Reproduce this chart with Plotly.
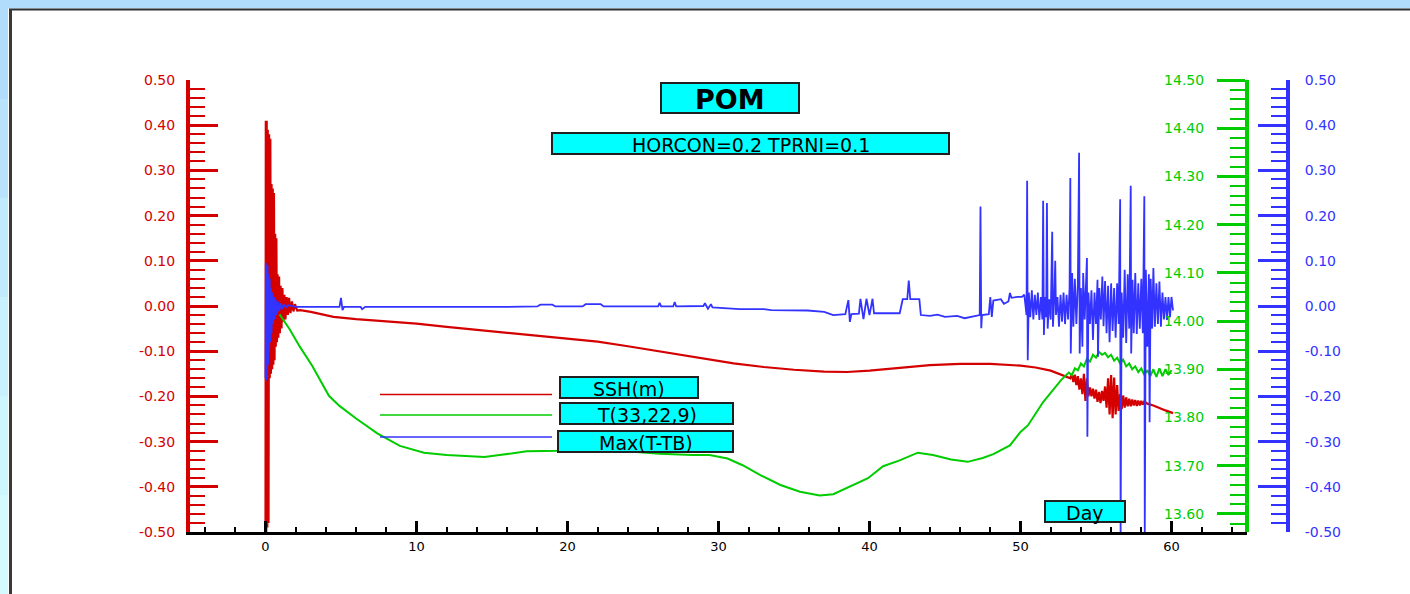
import plotly.graph_objects as go

# ------------------------------------------------------------------ data
# SSH (m), left red axis
ssh_day = [0.00, 0.02, 0.05, 0.08, 0.12, 0.15, 0.20, 0.24, 0.28, 0.32, 0.36, 0.40, 0.44, 0.48,
           0.52, 0.56, 0.60, 0.64, 0.68, 0.72, 0.76, 0.80, 0.85, 0.90, 0.95, 1.00, 1.06, 1.12,
           1.18, 1.25, 1.32, 1.40, 1.48, 1.56, 1.65, 1.75, 1.85, 1.95, 2.10, 2.30,
           3.0, 4.5, 6.0, 8.0, 10.0, 12.0, 13.5, 16.0, 18.0, 20.0, 22.0, 24.0, 26.0, 28.0, 30.0,
           31.0, 33.0, 35.0, 37.0, 38.5, 40.0, 42.0, 44.0, 46.0, 48.0, 50.0, 51.0, 52.0, 52.5, 53.0,
           53.3, 53.4, 53.5, 53.6, 53.7, 53.8, 53.9, 54.0, 54.1, 54.2, 54.3, 54.4, 54.5, 54.6, 54.7,
           54.8, 54.9, 55.0, 55.1, 55.2, 55.3, 55.4, 55.5, 55.6, 55.7, 55.8, 55.9, 56.0, 56.1, 56.2,
           56.3, 56.4, 56.5, 56.6, 56.7, 56.8, 56.9, 57.0, 57.1, 57.2, 57.3, 57.4, 57.5, 57.6, 57.7,
           57.8, 57.9, 58.0, 58.1, 58.2, 58.4, 58.8, 59.2, 59.6, 60.1]
ssh_val = [-0.50, 0.41, -0.50, 0.41, -0.49, 0.39, -0.48, 0.38, -0.16, 0.37, -0.15, 0.27, -0.14, 0.26,
           -0.13, 0.25, -0.12, 0.16, -0.09, 0.15, -0.08, 0.07, -0.07, 0.065, -0.06, 0.045, -0.05, 0.04,
           -0.035, 0.025, -0.03, 0.02, -0.02, 0.018, -0.016, 0.01, -0.012, 0.004, -0.010, -0.009,
           -0.013, -0.024, -0.029, -0.034, -0.039, -0.046, -0.051, -0.058, -0.065, -0.072, -0.079,
           -0.089, -0.100, -0.111, -0.121, -0.127, -0.135, -0.141, -0.145, -0.146, -0.143, -0.137,
           -0.131, -0.128, -0.128, -0.132, -0.136, -0.143, -0.149, -0.155,
           -0.160, -0.150, -0.168, -0.152, -0.175, -0.155, -0.185, -0.160, -0.195, -0.150, -0.210,
           -0.160, -0.200, -0.180, -0.200, -0.183, -0.205, -0.185, -0.212, -0.190, -0.215, -0.188,
           -0.210, -0.178, -0.225, -0.160, -0.240, -0.153, -0.248, -0.158, -0.240, -0.175, -0.232,
           -0.195, -0.228, -0.198, -0.225, -0.202, -0.222, -0.205, -0.222, -0.207, -0.220, -0.208,
           -0.221, -0.209, -0.220, -0.210, -0.218, -0.211, -0.216, -0.220, -0.226, -0.231, -0.237]

# T(33,22,9), green axis
t_day = [0.93, 1.6, 2.25, 3.1, 4.2, 4.9, 6.0, 7.4, 8.9, 10.5, 12.0, 13.5, 14.5, 15.5, 17.3, 19.5,
         21.7, 23.9, 26.1, 28.3, 29.4, 30.6, 31.6, 32.8, 34.1, 35.4, 36.7, 37.6, 38.7, 39.9, 40.9,
         42.0, 43.2, 44.2, 45.4, 46.5, 47.5, 48.2, 49.3, 50.0, 50.5, 51.5, 52.7,
         53.0, 53.2, 53.4, 53.6, 53.8, 54.0, 54.2, 54.4, 54.6, 54.8, 55.0, 55.2, 55.4, 55.6, 55.8,
         56.0, 56.2, 56.4, 56.6, 56.8, 57.0, 57.2, 57.4, 57.6, 57.8, 58.0, 58.2, 58.4, 58.6, 58.8,
         59.0, 59.2, 59.4, 59.6, 59.8, 60.0]
t_val = [14.014, 13.983, 13.948, 13.907, 13.845, 13.824, 13.798, 13.767, 13.741, 13.727, 13.722,
         13.720, 13.718, 13.722, 13.730, 13.731, 13.734, 13.730, 13.725, 13.722, 13.722, 13.715,
         13.701, 13.680, 13.660, 13.646, 13.638, 13.641, 13.657, 13.674, 13.699, 13.711, 13.727,
         13.722, 13.713, 13.708, 13.716, 13.724, 13.742, 13.770, 13.784, 13.832, 13.878,
         13.886, 13.893, 13.888, 13.902, 13.898, 13.912, 13.906, 13.922, 13.916, 13.930, 13.924,
         13.936, 13.930, 13.934, 13.925, 13.930, 13.918, 13.924, 13.912, 13.920, 13.906, 13.912,
         13.900, 13.906, 13.894, 13.902, 13.888, 13.898, 13.886, 13.900, 13.884, 13.902, 13.886,
         13.900, 13.888, 13.898]

# Max(T-TB), right blue axis
dtb_day = [0.00, 0.02, 0.05, 0.08, 0.11, 0.14, 0.17, 0.20, 0.24, 0.28, 0.32, 0.36, 0.40, 0.45,
           0.50, 0.56, 0.62, 0.68, 0.75, 0.82, 0.90, 1.00, 1.10, 1.20, 1.35, 1.50, 1.70,
           2.0, 4.9, 5.0, 5.1, 5.2, 6.3, 6.4, 6.6, 10.0, 13.5, 16.0, 18.0, 18.2, 19.0, 19.2, 21.0,
           21.2, 22.2, 22.4, 26.0, 26.1, 26.2, 27.0, 27.1, 27.2, 29.0, 29.1, 29.3, 29.5, 29.6,
           31.4, 33.0, 33.5, 35.9, 37.0, 37.6, 38.4, 38.6, 38.7, 38.8, 39.3, 39.4, 39.6, 39.8,
           40.0, 40.2, 40.3, 41.4, 42.0, 42.2, 42.5, 42.6, 42.7, 43.3, 43.4, 44.0, 44.5, 45.0,
           45.8, 46.3, 46.9, 47.3, 47.35, 47.4, 47.45, 47.9, 48.0, 48.1, 48.2, 48.7, 48.9, 49.2,
           49.3, 49.4, 49.8, 50.1, 50.25,
           50.40, 50.44, 50.48, 50.55, 50.65, 50.75, 50.85, 50.95, 51.05, 51.15, 51.25, 51.35,
           51.45, 51.50, 51.55, 51.62, 51.70, 51.75, 51.80, 51.90, 52.00, 52.10, 52.15, 52.25,
           52.30, 52.35, 52.45, 52.55, 52.65, 52.75, 52.85, 52.95, 53.05, 53.15, 53.25, 53.30,
           53.33, 53.42, 53.50, 53.60, 53.70, 53.80, 53.88, 53.92, 54.00, 54.10, 54.15, 54.25,
           54.33, 54.40, 54.43, 54.50, 54.60, 54.70, 54.80, 54.90, 55.00, 55.10, 55.13, 55.22,
           55.32, 55.42, 55.50, 55.60, 55.70, 55.80, 55.90, 56.00, 56.10, 56.20, 56.30, 56.40,
           56.50, 56.60, 56.63, 56.70, 56.80, 56.90, 57.00, 57.10, 57.20, 57.30, 57.33, 57.42,
           57.50, 57.60, 57.70, 57.80, 57.90, 58.00, 58.10, 58.20, 58.23, 58.30, 58.40, 58.50,
           58.55, 58.62, 58.72, 58.80, 58.90, 59.00, 59.10, 59.20, 59.30, 59.40, 59.50, 59.60,
           59.70, 59.80, 59.90, 60.00, 60.10]
dtb_val = [-0.160, 0.095, -0.165, 0.090, -0.160, 0.090, -0.130, 0.070, -0.100, 0.060, -0.080,
           0.040, -0.060, 0.030, -0.040, 0.020, -0.030, 0.014, -0.020, 0.010, -0.012, 0.006,
           -0.007, 0.004, -0.003, 0.002, 0.000,
           -0.002, -0.002, 0.018, -0.009, -0.002, -0.002, -0.007, -0.002, -0.002, -0.003, -0.002,
           -0.001, 0.003, 0.003, -0.001, -0.001, 0.004, 0.004, -0.001, -0.001, 0.007, -0.001,
           -0.001, 0.009, -0.001, 0.000, 0.006, -0.006, 0.004, -0.003,
           -0.007, -0.007, -0.009, -0.010, -0.013, -0.020, -0.018, 0.013, -0.035, -0.018, -0.017,
           0.016, -0.029, 0.016, -0.020, 0.016, -0.016, -0.016, -0.016, 0.015, 0.015, 0.056,
           0.015, 0.015, -0.020, -0.022, -0.019, -0.024, -0.022, -0.027, -0.022, -0.020, 0.220,
           -0.049, -0.020, -0.018, 0.020, -0.024, 0.012, 0.015, 0.005, 0.010, 0.029, 0.018, 0.020,
           0.020, 0.025,
           -0.020, 0.277, -0.120, 0.030, -0.025, 0.035, -0.030, 0.025, -0.020, 0.030, -0.031,
           0.020, -0.030, 0.233, -0.064, 0.020, -0.025, 0.228, -0.050, 0.015, -0.030, 0.164,
           -0.046, 0.030, 0.100, -0.020, 0.020, -0.046, 0.025, -0.035, 0.030, -0.040, 0.025,
           -0.030, 0.040, 0.283, -0.105, 0.073, -0.046, 0.060, -0.040, 0.050, 0.339, -0.105,
           0.040, -0.090, 0.073, -0.030, 0.060, 0.106, -0.289, 0.030, -0.040, 0.035, -0.075,
           0.030, -0.040, 0.058, -0.112, 0.040, -0.030, 0.065, -0.045, 0.055, -0.060, 0.045,
           -0.080, 0.050, -0.055, 0.040, -0.070, 0.050, -0.040, 0.236, -0.500, 0.030, -0.070,
           0.080, -0.082, 0.070, -0.050, 0.266, -0.105, 0.058, -0.060, 0.073, -0.062, 0.050,
           -0.050, 0.060, -0.060, 0.243, -0.500, 0.080, -0.090, 0.070, -0.257, 0.060, -0.050,
           0.084, -0.046, 0.050, -0.040, 0.054, -0.046, 0.030, -0.030, 0.020, -0.031, 0.020,
           -0.025, 0.020, -0.010]

# tick labels
x_tick_vals = [0, 10, 20, 30, 40, 50, 60]
x_tick_text = ["0", "10", "20", "30", "40", "50", "60"]
m_tick_vals = [0.5, 0.4, 0.3, 0.2, 0.1, 0.0, -0.1, -0.2, -0.3, -0.4, -0.5]
m_tick_text = ["0.50", "0.40", "0.30", "0.20", "0.10", "0.00",
               "-0.10", "-0.20", "-0.30", "-0.40", "-0.50"]
t_tick_vals = [14.5, 14.4, 14.3, 14.2, 14.1, 14.0, 13.9, 13.8, 13.7, 13.6]
t_tick_text = ["14.50", "14.40", "14.30", "14.20", "14.10", "14.00",
               "13.90", "13.80", "13.70", "13.60"]

series_names = ["SSH(m)", "T(33,22,9)", "Max(T-TB)"]
title_text = "POM"
subtitle_text = "HORCON=0.2 TPRNI=0.1"
x_title_text = "Day"

# ------------------------------------------------------------------ style
RED = "#d40000"
GREEN = "#00cc00"
BLUE = "#3333ff"
CYAN = "#00ffff"
FONT = "DejaVu Sans"

W, H = 1410, 594
L, R, T, B = 190, 122, 80, 62
PW, PH = W - L - R, H - T - B


def px(xp):
    return (xp - L) / PW


def py(yp):
    return (H - B - yp) / PH


X_END = px(1247)

fig = go.Figure()
fig.add_trace(go.Scatter(x=ssh_day, y=ssh_val, mode="lines", name=series_names[0],
                         line=dict(color=RED, width=2.2), yaxis="y", hoverinfo="skip"))
fig.add_trace(go.Scatter(x=t_day, y=t_val, mode="lines", name=series_names[1],
                         line=dict(color=GREEN, width=2), yaxis="y2", hoverinfo="skip"))
fig.add_trace(go.Scatter(x=dtb_day, y=dtb_val, mode="lines", name=series_names[2],
                         line=dict(color=BLUE, width=1.8), yaxis="y3", hoverinfo="skip"))

shapes = []
# window frame
strip_cols = ["#b2dcfc", "#b9e3fc", "#c1ebfd", "#c8f1fd", "#cef6fe", "#d3fafe"]
n = len(strip_cols)
for i, c in enumerate(strip_cols):
    shapes.append(dict(type="rect", xref="paper", yref="paper", layer="below",
                       x0=px(0), x1=px(8), y0=py(i * H / n), y1=py((i + 1) * H / n),
                       fillcolor=c, line=dict(width=0)))
shapes.append(dict(type="rect", xref="paper", yref="paper", layer="below",
                   x0=px(0), x1=px(W), y0=py(0), y1=py(8.5),
                   fillcolor="#b2dcfc", line=dict(width=0)))
shapes.append(dict(type="line", xref="paper", yref="paper", layer="below",
                   x0=px(9), x1=px(W), y0=py(9.5), y1=py(9.5),
                   line=dict(color="#303030", width=2)))
shapes.append(dict(type="line", xref="paper", yref="paper", layer="below",
                   x0=px(10.5), x1=px(10.5), y0=py(9), y1=py(H),
                   line=dict(color="#383838", width=3)))

# text boxes
boxes = [
    (661, 799, 83, 113),   # POM
    (552, 949, 133, 154),  # HORCON
    (560, 698, 377, 398),  # SSH
    (560, 733, 403, 424),  # T
    (558, 733, 431, 452),  # Max
    (1045, 1125, 501, 522),  # Day
]
for x0, x1, y0, y1 in boxes:
    shapes.append(dict(type="rect", xref="paper", yref="paper", layer="above",
                       x0=px(x0), x1=px(x1), y0=py(y1), y1=py(y0),
                       fillcolor=CYAN, line=dict(color="#202020", width=2)))

# legend sample lines
for yy, col in [(394.5, RED), (415, GREEN), (437, BLUE)]:
    shapes.append(dict(type="line", xref="paper", yref="paper", layer="above",
                       x0=px(380), x1=px(552), y0=py(yy), y1=py(yy),
                       line=dict(color=col, width=1.5)))

annotations = []
texts = [
    (title_text, boxes[0], 27, True),
    (subtitle_text, boxes[1], 19, False),
    (series_names[0], boxes[2], 19, False),
    (series_names[1], boxes[3], 19, False),
    (series_names[2], boxes[4], 19, False),
    (x_title_text, boxes[5], 19, False),
]
for txt, (x0, x1, y0, y1), size, bold in texts:
    annotations.append(dict(
        text=f"<b>{txt}</b>" if bold else txt,
        xref="paper", yref="paper", x=px((x0 + x1) / 2), y=py((y0 + y1) / 2 + 1),
        xanchor="center", yanchor="middle", showarrow=False,
        font=dict(family=FONT, size=size, color="black")))

TICK_FONT = 14

fig.update_layout(
    width=W, height=H,
    margin=dict(l=L, r=R, t=T, b=B, pad=0),
    paper_bgcolor="white", plot_bgcolor="white",
    showlegend=False,
    shapes=shapes, annotations=annotations,
    xaxis=dict(
        domain=[0, X_END], range=[-5, 65], showgrid=False, zeroline=False,
        showline=True, linecolor="black", linewidth=3,
        tickmode="array", tickvals=x_tick_vals, ticktext=x_tick_text,
        ticks="inside", ticklen=11, tickwidth=3, tickcolor="black",
        minor=dict(tickmode="linear", tick0=0, dtick=2, ticks="inside", ticklen=5,
                   tickwidth=1.5, tickcolor="black", showgrid=False),
        tickfont=dict(family=FONT, size=13, color="black"),
        ticklabelstandoff=0,
    ),
    yaxis=dict(
        range=[-0.5, 0.5], showgrid=False, zeroline=False,
        showline=True, linecolor=RED, linewidth=4,
        tickmode="array", tickvals=m_tick_vals, ticktext=m_tick_text,
        ticks="inside", ticklen=28, tickwidth=2.5, tickcolor=RED,
        minor=dict(tickmode="linear", tick0=0, dtick=0.02, ticks="inside", ticklen=15,
                   tickwidth=1.5, tickcolor=RED, showgrid=False),
        tickfont=dict(family=FONT, size=TICK_FONT, color=RED),
        ticklabelstandoff=8,
    ),
    yaxis2=dict(
        range=[13.5625, 14.5], overlaying="y", side="left", anchor="free", position=X_END,
        showgrid=False, zeroline=False,
        showline=True, linecolor=GREEN, linewidth=4,
        tickmode="array", tickvals=t_tick_vals, ticktext=t_tick_text,
        ticks="outside", ticklen=28, tickwidth=2.5, tickcolor=GREEN,
        minor=dict(tickmode="linear", tick0=0, dtick=0.02, ticks="outside", ticklen=15,
                   tickwidth=1.5, tickcolor=GREEN, showgrid=False),
        tickfont=dict(family=FONT, size=TICK_FONT, color=GREEN),
        ticklabelstandoff=10,
    ),
    yaxis3=dict(
        range=[-0.5, 0.5], overlaying="y", side="right", anchor="free", position=1.0,
        showgrid=False, zeroline=False,
        showline=True, linecolor=BLUE, linewidth=4,
        tickmode="array", tickvals=m_tick_vals, ticktext=m_tick_text,
        ticks="inside", ticklen=28, tickwidth=2.5, tickcolor=BLUE,
        minor=dict(tickmode="linear", tick0=0, dtick=0.02, ticks="inside", ticklen=15,
                   tickwidth=1.5, tickcolor=BLUE, showgrid=False),
        tickfont=dict(family=FONT, size=TICK_FONT, color=BLUE),
        ticklabelstandoff=12,
    ),
)

fig.write_html("out.html")
